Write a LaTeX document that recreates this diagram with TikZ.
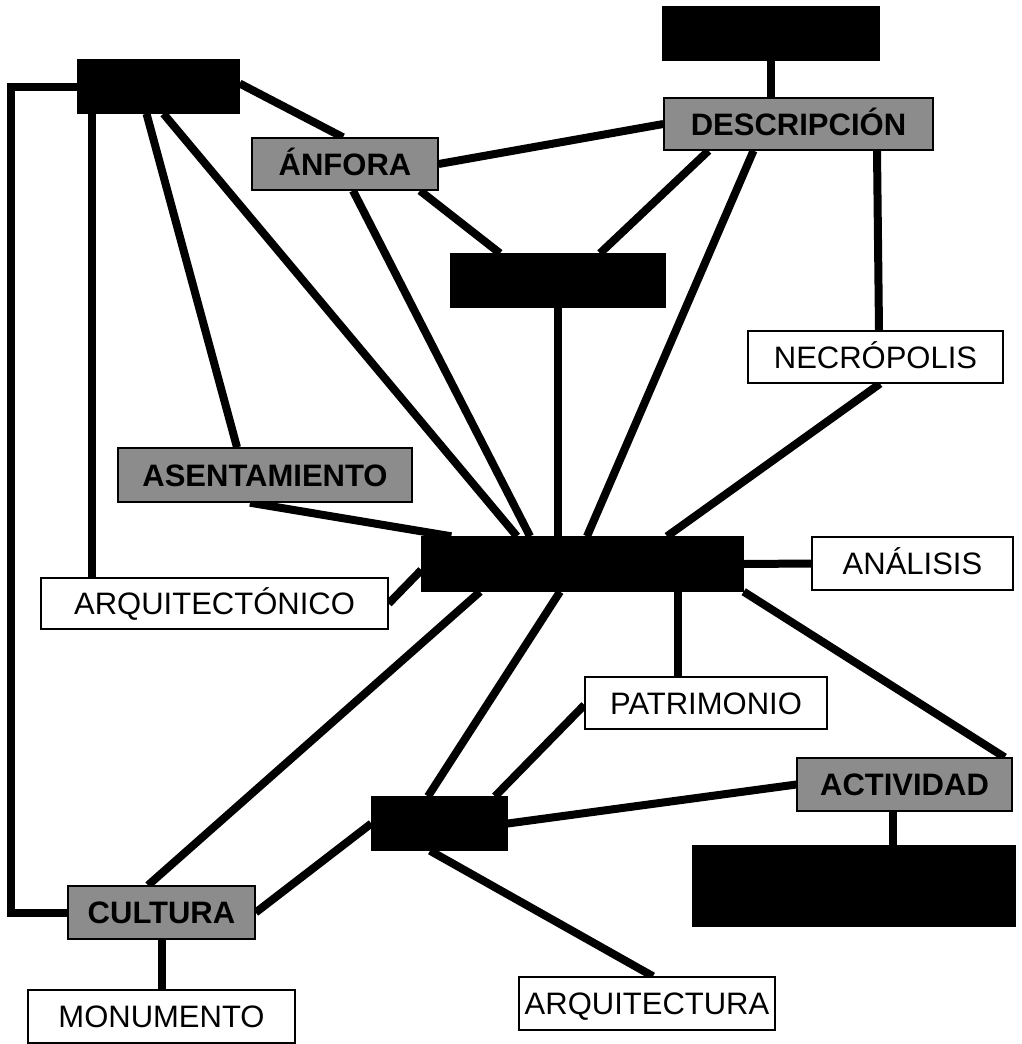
\documentclass[tikz,border=0pt]{standalone}
\usepackage{fontspec}
\setmainfont{Liberation Sans}
\usetikzlibrary{backgrounds}

\begin{document}
\begin{tikzpicture}[x=1pt,y=-1pt,
	box/.style={draw, line width=1.4pt, inner sep=0pt, text height=22.3pt, text depth=0pt,
		font=\fontsize{31}{34}\selectfont},
	blackbox/.style={box, fill=black},
	graybox/.style={box, fill=black!45, font=\fontsize{31}{34}\selectfont\bfseries},
	whitebox/.style={box, fill=white},
	link/.style={line width=8pt}]

\useasboundingbox (0,0) rectangle (1021,1044);

% black boxes
\node[blackbox, minimum width=161pt, minimum height=53pt] (tl) at (158.5,86.5) {};
\node[blackbox, minimum width=216pt, minimum height=53pt] (topb) at (771,33.5) {};
\node[blackbox, minimum width=214pt, minimum height=53pt] (midb) at (558,280.5) {};
\node[blackbox, minimum width=321pt, minimum height=54pt] (hub) at (582.5,564) {};
\node[blackbox, minimum width=135pt, minimum height=53pt] (smallb) at (439.5,823.5) {};
\node[blackbox, minimum width=322pt, minimum height=80pt] (brb) at (854,886) {};

% gray boxes
\node[graybox, minimum width=269pt, minimum height=52pt] (desc) at (798.5,124) {DESCRIPCIÓN};
\node[graybox, minimum width=186pt, minimum height=52pt] (anfora) at (345,164) {ÁNFORA};
\node[graybox, minimum width=294pt, minimum height=54pt] (asent) at (265,475) {ASENTAMIENTO};
\node[graybox, minimum width=215pt, minimum height=53pt] (activ) at (904.5,784.5) {ACTIVIDAD};
\node[graybox, minimum width=187pt, minimum height=53pt] (cultura) at (161.5,912.5) {CULTURA};

% white boxes
\node[whitebox, minimum width=255pt, minimum height=52pt] (necro) at (875.5,357) {NECRÓPOLIS};
\node[whitebox, minimum width=201pt, minimum height=53pt] (analisis) at (912.5,563.5) {ANÁLISIS};
\node[whitebox, minimum width=347pt, minimum height=51pt] (arqt) at (214.5,603.5) {ARQUITECTÓNICO};
\node[whitebox, minimum width=242pt, minimum height=52pt] (patri) at (706,703) {PATRIMONIO};
\node[whitebox, minimum width=267pt, minimum height=53pt] (monu) at (161.5,1016.5) {MONUMENTO};
\node[whitebox, minimum width=256pt, minimum height=53pt] (arqa) at (647,1003.5) {ARQUITECTURA};

\begin{scope}[on background layer]
% links from the top left box
\draw[link] ([yshift=3pt]tl.east) -- ([xshift=-2pt]anfora.north);
\draw[link] ([xshift=-66.5pt]tl.south) -- ([xshift=-122.5pt]arqt.north);
\draw[link] ([xshift=-12pt]tl.south) -- ([xshift=-28pt]asent.north);
\draw[link] ([xshift=5pt]tl.south) -- ([xshift=-65.5pt]hub.north);
\draw[link] (tl.west) -- ++(-66,0) |- (cultura.west);

% links in the upper part
\draw[link] (anfora.east) -- (desc.west);
\draw[link] ([xshift=8pt]anfora.south) -- ([xshift=-52.5pt]hub.north);
\draw[link] ([xshift=75pt]anfora.south) -- ([xshift=-58pt]midb.north);
\draw[link] ([xshift=-90pt]desc.south) -- ([xshift=42pt]midb.north);
\draw[link] ([xshift=-45pt]desc.south) -- ([xshift=4.5pt]hub.north);
\draw[link] ([xshift=78.5pt]desc.south) -- ([xshift=3.5pt]necro.north);
\draw[link] (topb.south) -- (topb.south |- desc.north);
\draw[link] (midb.south) -- (midb.south |- hub.north);
\draw[link] ([xshift=4.5pt]necro.south) -- ([xshift=84.5pt]hub.north);
\draw[link] ([xshift=-15pt]asent.south) -- ([xshift=30pt]hub.north west);
\draw[link] (arqt.east) -- ([yshift=-6pt]hub.west);
\draw[link] (hub.east) -- (analisis.west);

% links in the lower part
\draw[link] (hub.south east) -- ([xshift=-8pt]activ.north east);
\draw[link] ([xshift=95.5pt]hub.south) -- ([xshift=95.5pt]hub.south |- patri.north);
\draw[link] ([xshift=-102.5pt]hub.south) -- ([xshift=-13.5pt]cultura.north);
\draw[link] ([xshift=-22.5pt]hub.south) -- ([xshift=-11.5pt]smallb.north);
\draw[link] ([yshift=-2pt]patri.west) -- ([xshift=55.5pt]smallb.north);
\draw[link] (smallb.east) -- (activ.west);
\draw[link] ([xshift=-11.5pt]activ.south) -- ([xshift=-11.5pt]activ.south |- brb.north);
\draw[link] (smallb.west) -- (cultura.east);
\draw[link] ([xshift=-9.5pt]smallb.south) -- ([xshift=6pt]arqa.north);
\draw[link] (cultura.south) -- (monu.north);
\end{scope}

\end{tikzpicture}
\end{document}
